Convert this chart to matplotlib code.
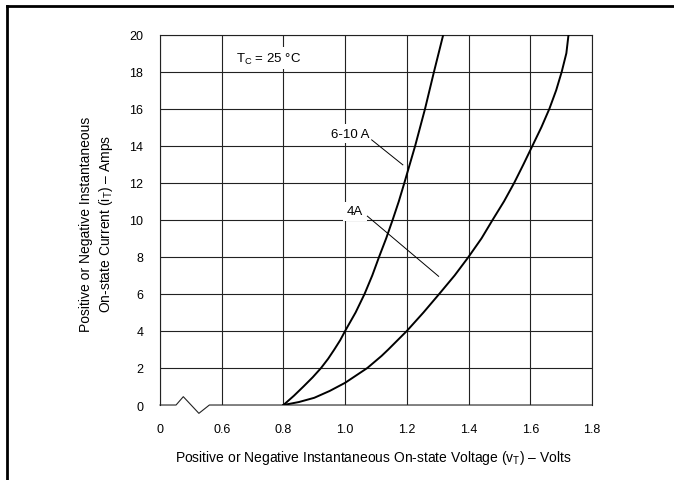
import matplotlib
matplotlib.use("Agg")
import matplotlib.pyplot as plt
from matplotlib.lines import Line2D

plt.rcParams['font.family'] = ['Liberation Sans', 'DejaVu Sans']
plt.rcParams['mathtext.fontset'] = 'custom'
plt.rcParams['mathtext.rm'] = 'Liberation Sans'

## the data
# steep curve (6-10 A devices)
v_6_10 = [0.8, 0.834, 0.865, 0.895, 0.922, 0.945, 0.965, 0.984, 1.0, 1.034,
          1.063, 1.088, 1.110, 1.133, 1.154, 1.174, 1.192, 1.227, 1.259,
          1.288, 1.318]
i_6_10 = [0, 0.5, 1, 1.5, 2, 2.5, 3, 3.5, 4, 5,
          6, 7, 8, 9, 10, 11, 12, 14, 16,
          18, 20]
# flatter curve (4 A devices)
v_4 = [0.8, 0.85, 0.9, 0.95, 1.0, 1.072, 1.118, 1.14, 1.2, 1.254, 1.305, 1.355,
       1.4, 1.442, 1.478, 1.515, 1.548, 1.578, 1.607, 1.636, 1.662, 1.684,
       1.702, 1.717, 1.724]
i_4 = [0, 0.16, 0.39, 0.76, 1.2, 2, 2.65, 3, 4, 5, 6, 7,
       8, 9, 10, 11, 12, 13, 14, 15, 16, 17,
       18, 19, 20]

x_ticks = [0.4, 0.6, 0.8, 1.0, 1.2, 1.4, 1.6, 1.8]
x_ticklabels = ['0', '0.6', '0.8', '1.0', '1.2', '1.4', '1.6', '1.8']
y_ticks = list(range(0, 21, 2))

# broken-axis zigzag on the voltage axis (0 .. 0.6 gap)
brk_x = [0.4, 0.452, 0.4755, 0.526, 0.56, 1.8]
brk_y = [0, 0, 0.45, -0.45, 0, 0]

fig = plt.figure(figsize=(6.74, 4.81), dpi=100)
ax = fig.add_axes([0.2374, 0.1559, 0.8783 - 0.2374, 0.9258 - 0.1559])

ax.set_xlim(0.4, 1.8)
ax.set_ylim(0, 20)
ax.set_xticks(x_ticks)
ax.set_xticklabels(x_ticklabels)
ax.set_yticks(y_ticks)
ax.tick_params(length=0, labelsize=9)
ax.tick_params(axis='x', pad=13)
ax.tick_params(axis='y', pad=12)

ax.grid(True, color='#222222', lw=0.8)
ax.yaxis.get_major_ticks()[0].gridline.set_visible(False)
for s in ['left', 'top', 'right']:
    ax.spines[s].set_color('#222222')
    ax.spines[s].set_linewidth(0.8)
ax.spines['bottom'].set_visible(False)
ax.plot(brk_x, brk_y, color='#222222', lw=0.8, clip_on=False, zorder=3)

## the curves
ax.plot(v_6_10, i_6_10, color='black', lw=1.4, zorder=4)
ax.plot(v_4, i_4, color='black', lw=1.4, zorder=4)

## labels and pointers
box = dict(facecolor='white', edgecolor='none', pad=2.5)
ax.text(0.751, 18.74, 'T$_\\mathregular{C}$ = 25 °C', ha='center', va='center',
        fontsize=9.5, bbox=box, zorder=5)
ax.text(1.016, 14.65, '6-10 A', ha='center', va='center', fontsize=9.5, bbox=box, zorder=5)
ax.plot([1.086, 1.187], [14.32, 12.97], color='black', lw=0.7, zorder=5)
ax.text(1.032, 10.47, '4A', ha='center', va='center', fontsize=9.5, bbox=box, zorder=5)
ax.plot([1.072, 1.303], [10.2, 6.95], color='black', lw=0.7, zorder=5)

ax.set_xlabel('Positive or Negative Instantaneous On-state Voltage (v$_\\mathregular{T}$) – Volts',
              fontsize=10)
ax.xaxis.set_label_coords(0.494, -0.1396)
ax.xaxis.label.set_va('center')
ax.set_ylabel('Positive or Negative Instantaneous\nOn-state Current (i$_\\mathregular{T}$) – Amps',
              fontsize=10, linespacing=1.3)
ax.yaxis.set_label_coords(-0.146, 0.491)
ax.yaxis.label.set_va('center')

## frame round the figure (right and bottom edges are cut off)
fig.add_artist(Line2D([7.3 / 674, 7.3 / 674], [0, 1 - 7.3 / 481], color='black', lw=2))
fig.add_artist(Line2D([7.3 / 674, 1], [1 - 7.3 / 481, 1 - 7.3 / 481], color='black', lw=2))

plt.savefig('out.png', dpi=100)
